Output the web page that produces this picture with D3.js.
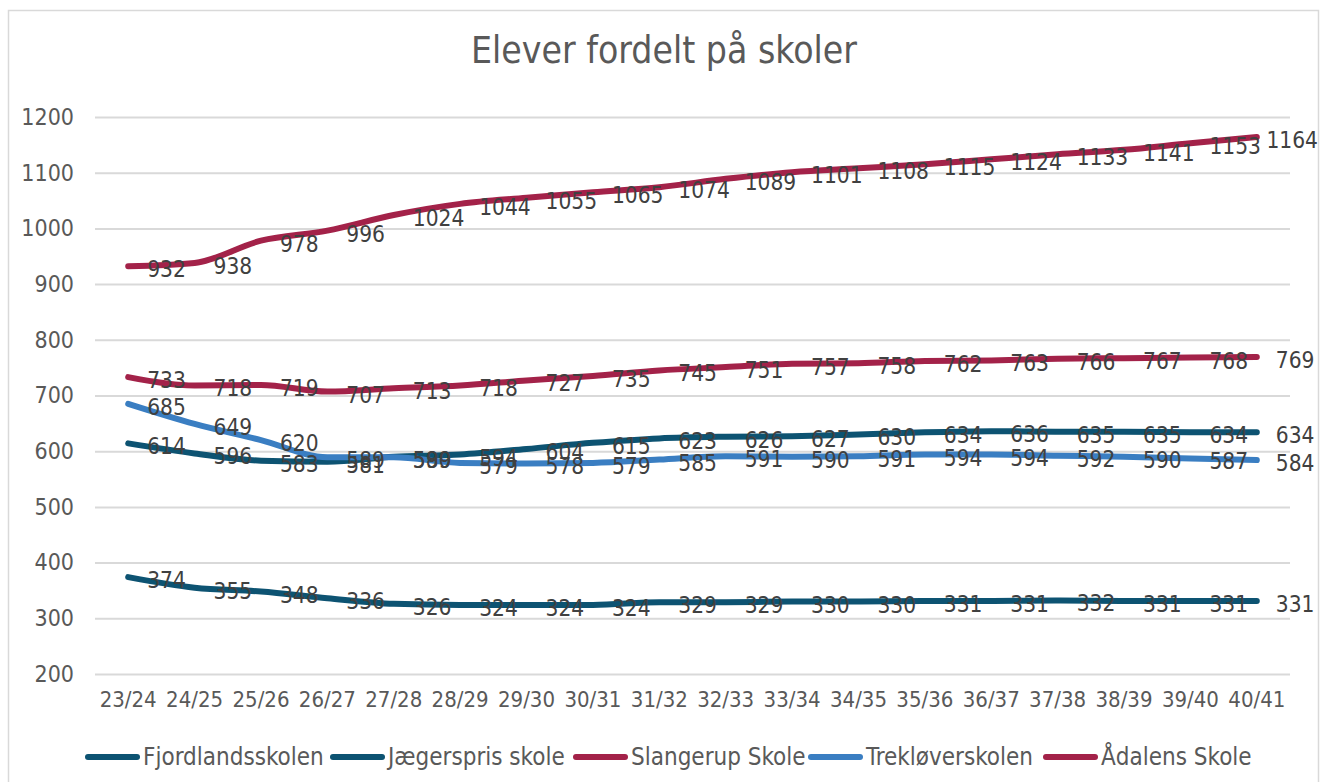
<!DOCTYPE html>
<html>
<head>
<meta charset="utf-8">
<script src="https://cdn.jsdelivr.net/npm/d3@7"></script>
<style>
  body { margin: 0; background: #fff; }
  text { font-family: "DejaVu Sans Condensed", "DejaVu Sans", sans-serif; }
</style>
</head>
<body>
<div id="chart"></div>
<script>
// data
var years = ["23/24","24/25","25/26","26/27","27/28","28/29","29/30","30/31","31/32",
             "32/33","33/34","34/35","35/36","36/37","37/38","38/39","39/40","40/41"];
var fjordlandsskolen = [614,596,583,581,590,594,604,615,623,626,627,630,634,636,635,635,634,634];
var jaegerspris = [374,355,348,336,326,324,324,324,329,329,330,330,331,331,332,331,331,331];
var slangerup = [932,938,978,996,1024,1044,1055,1065,1074,1089,1101,1108,1115,1124,1133,1141,1153,1164];
var treklover = [685,649,620,589,589,579,578,579,585,591,590,591,594,594,592,590,587,584];
var aadalens = [733,718,719,707,713,718,727,735,745,751,757,758,762,763,766,767,768,769];
var yTicks = [200,300,400,500,600,700,800,900,1000,1100,1200];

var series = [
  { name: "Fjordlandsskolen", values: fjordlandsskolen, color: "#0d5372" },
  { name: "Jægerspris skole", values: jaegerspris, color: "#0d5372" },
  { name: "Slangerup Skole", values: slangerup, color: "#a32249" },
  { name: "Trekløverskolen", values: treklover, color: "#3a7ec2" },
  { name: "Ådalens Skole", values: aadalens, color: "#a32249" }
];

var W = 1320, H = 782;
var svg = d3.select("#chart").append("svg")
    .attr("width", W)
    .attr("height", H);

// chart frame
svg.append("rect")
    .attr("x", 8.5).attr("y", 10.5)
    .attr("width", 1310).attr("height", 790)
    .attr("fill", "none")
    .attr("stroke", "#d9d9d9")
    .attr("stroke-width", 1.5);

svg.append("text")
    .attr("x", 664).attr("y", 63)
    .attr("text-anchor", "middle")
    .attr("font-size", 37)
    .attr("fill", "#595959")
    .text("Elever fordelt på skoler");

var x = d3.scaleBand().domain(years).range([95, 1290]);
var y = d3.scaleLinear().domain([200, 1200]).range([674, 117]);

// gridlines
svg.append("g")
    .attr("class", "grid")
    .attr("transform", "translate(95,0)")
    .call(d3.axisLeft(y).tickValues(yTicks).tickSize(-(1290 - 95)).tickFormat(""))
    .call(function (g) {
        g.select(".domain").remove();
        g.selectAll("line").attr("stroke", "#d9d9d9").attr("stroke-width", 2);
    });

// y axis labels
svg.append("g")
    .attr("transform", "translate(74,0)")
    .call(d3.axisLeft(y).tickValues(yTicks).tickSize(0).tickPadding(0).tickFormat(d3.format("d")))
    .call(function (g) {
        g.select(".domain").remove();
        g.selectAll("text")
            .attr("font-size", 23)
            .attr("fill", "#595959")
            .attr("font-family", "DejaVu Sans Condensed, DejaVu Sans, sans-serif");
    });

// x axis labels
svg.append("g")
    .attr("transform", "translate(0,674)")
    .call(d3.axisBottom(x).tickSize(0).tickPadding(17))
    .call(function (g) {
        g.select(".domain").remove();
        g.selectAll("text")
            .attr("font-size", 22)
            .attr("fill", "#595959")
            .attr("font-family", "DejaVu Sans Condensed, DejaVu Sans, sans-serif");
    });

var cx = function (i) { return x(years[i]) + x.bandwidth() / 2; };

var line = d3.line()
    .curve(d3.curveMonotoneX)
    .x(function (d, i) { return cx(i); })
    .y(function (d) { return y(d); });

var lines = svg.append("g");
series.forEach(function (s) {
    lines.append("path")
        .datum(s.values)
        .attr("fill", "none")
        .attr("stroke", s.color)
        .attr("stroke-width", 6)
        .attr("stroke-linecap", "round")
        .attr("stroke-linejoin", "round")
        .attr("d", line);
});

// data labels, right of each point
var labels = svg.append("g");
series.forEach(function (s) {
    s.values.forEach(function (v, i) {
        var t = labels.append("text")
            .attr("x", cx(i) + 19)
            .attr("y", y(v) + 3)
            .attr("dominant-baseline", "central")
            .attr("font-size", 22.5)
            .attr("fill", "#404040")
            .text(v);
        var w = t.node().getComputedTextLength();
        if (cx(i) + 19 + w > 1318) t.attr("x", 1318 - w);
    });
});

// legend
var legendX = [85, 330, 573, 808, 1043];
var legend = svg.append("g").attr("transform", "translate(0,757)");
series.forEach(function (s, i) {
    var g = legend.append("g").attr("transform", "translate(" + legendX[i] + ",0)");
    g.append("line")
        .attr("x1", 3).attr("x2", 52)
        .attr("stroke", s.color)
        .attr("stroke-width", 6)
        .attr("stroke-linecap", "round");
    g.append("text")
        .attr("x", 58)
        .attr("dominant-baseline", "central")
        .attr("font-size", 24)
        .attr("fill", "#595959")
        .text(s.name);
});
</script>
</body>
</html>
